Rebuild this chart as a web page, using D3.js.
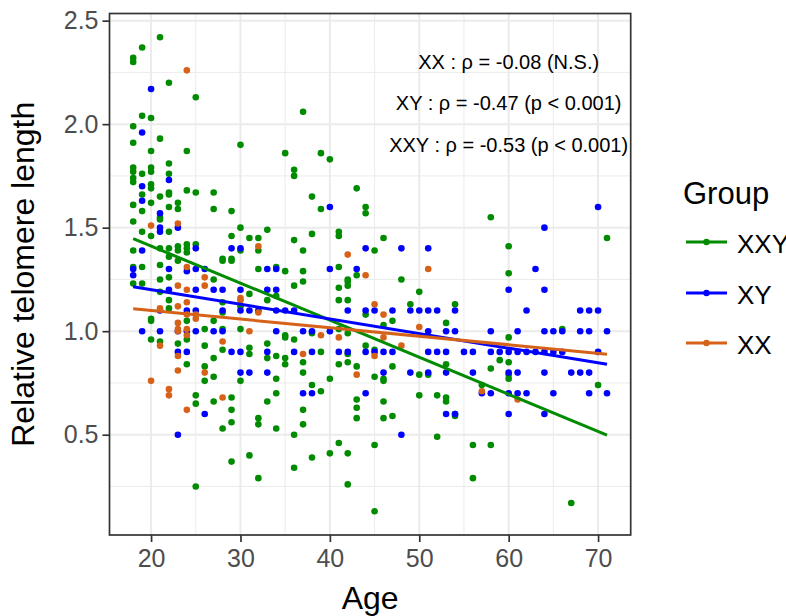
<!DOCTYPE html>
<html>
<head>
<meta charset="utf-8">
<script src="https://cdn.jsdelivr.net/npm/d3@7"></script>
<style>
  body { margin: 0; background: #fff; }
  text { font-family: "Liberation Sans", Arial, sans-serif; }
</style>
</head>
<body>
<div id="chart"></div>
<script>
// size of the drawing area
var svgWidth = 786;
var svgHeight = 616;

// panel edges (ggplot style, no margin object needed)
var panel = { left: 109.5, right: 630.7, top: 13.5, bottom: 535 };

// groups, in legend order
var groups = ["XXY", "XY", "XX"];
var groupColors = ["#008B00", "#0000FF", "#D6621A"];

// [age, relative telomere length]
var xxyPoints = [
  [21,2.42],[19,2.37],[18,2.32],[18,2.30],[22,2.20],[25,2.13],[37,2.06],[19,2.04],[20,2.03],[18,1.99],
  [21,1.93],[18,1.91],[30,1.90],[20,1.87],[24,1.87],[35,1.86],[39,1.86],[40,1.83],[22,1.81],[18,1.79],
  [18,1.77],[18,1.74],[18,1.72],[19,1.76],[20,1.79],[20,1.77],[36,1.78],[36,1.75],[22,1.76],[20,1.71],
  [20,1.69],[22,1.67],[22,1.66],[24,1.68],[25,1.67],[27,1.67],[19,1.66],[21,1.65],[38,1.65],[43,1.69],
  [18,1.61],[20,1.62],[23,1.62],[23,1.59],[22,1.60],[19,1.58],[27,1.59],[29,1.58],[39,1.59],[21,1.55],
  [21,1.54],[18,1.53],[22,1.48],[19,1.48],[20,1.46],[30,1.50],[33,1.49],[38,1.47],[41,1.48],[41,1.46],
  [29,1.46],[31,1.45],[32,1.45],[32,1.39],[36,1.44],[18,1.39],[21,1.40],[22,1.40],[22,1.36],[23,1.41],
  [23,1.39],[24,1.42],[24,1.40],[24,1.38],[25,1.42],[30,1.39],[28,1.35],[29,1.35],[37,1.39],
  [18,1.31],[19,1.31],[21,1.32],[23,1.34],[28,1.34],[29,1.34],[32,1.30],[34,1.31],[35,1.29],[37,1.29],
  [41,1.31],[43,1.27],[21,1.25],[22,1.26],[27,1.25],[18,1.23],[19,1.23],[36,1.22],[37,1.24],[41,1.21],
  [42,1.25],[42,1.24],[42,1.22],[21,1.19],[22,1.15],[28,1.14],[31,1.18],[33,1.15],[34,1.17],[41,1.15],
  [42,1.15],[22,1.11],[20,1.06],[20,1.05],[27,1.05],[30,1.12],[24,1.05],[28,1.09],
  [26,1.01],[30,1.01],[28,1.01],[41,1.01],[42,0.99],[38,0.99],[35,0.98],[35,0.97],[36,0.96],[20,0.96],
  [21,0.95],[23,0.94],[24,0.96],[33,0.94],
  [28,0.91],[31,0.92],[31,0.89],[33,0.87],[34,0.88],[35,0.87],[35,0.84],[37,0.85],[39,0.90],[26,0.93],
  [27,0.87],[42,0.89],[42,0.85],[41,0.84],[43,0.83],
  [24,0.84],[26,0.83],[26,0.76],[27,0.78],[30,0.76],[34,0.77],[37,0.80],[40,0.77],
  [25,0.69],[25,0.65],[29,0.68],[29,0.62],[27,0.66],[33,0.66],[34,0.70],[38,0.74],[39,0.71],[37,0.62],
  [43,0.67],[43,0.63],[43,0.58],[32,0.58],[32,0.55],[29,0.56],[28,0.53],[34,0.53],[37,0.55],
  [36,0.50],[41,0.46],[40,0.41],[42,0.41],[38,0.39],[31,0.40],[29,0.37],[32,0.29],[36,0.34],[25,0.25],[42,0.26],
  [44,1.60],[44,1.57],[58,1.55],[46,1.45],[45,1.39],[60,1.41],[71,1.45],
  [48,1.25],[60,1.28],[50,1.19],[49,1.13],[54,1.13],[44,1.08],[46,1.03],[47,1.05],[53,1.04],[66,1.01],
  [60,0.97],[44,0.93],[45,0.91],[59,0.86],[60,0.85],[58,0.82],[53,0.84],[47,0.83],[45,0.78],[46,0.77],
  [46,0.76],[50,0.79],[51,0.79],[60,0.79],[60,0.77],[57,0.74],[70,0.74],[50,0.69],[52,0.69],[53,0.68],
  [53,0.66],[46,0.66],[54,0.60],[54,0.59],[46,0.58],[47,0.59],[52,0.49],[45,0.45],[56,0.45],[58,0.45],
  [56,0.29],[67,0.17],[45,0.13]
];

var xyPoints = [
  [20,2.17],[19,1.96],[22,1.73],[19,1.70],[19,1.63],[21,1.57],[40,1.60],[23,1.50],[21,1.50],[21,1.48],
  [25,1.40],[29,1.40],[30,1.40],[19,1.39],
  [18,1.27],[18,1.30],[22,1.30],[24,1.29],[25,1.30],[26,1.30],[33,1.30],[34,1.30],[40,1.30],[43,1.30],
  [22,1.20],[25,1.20],[27,1.20],[28,1.20],[30,1.20],[33,1.20],[34,1.20],
  [42,1.10],[21,1.10],[24,1.10],[25,1.10],[28,1.10],[30,1.10],[31,1.10],[32,1.10],[34,1.10],[35,1.10],[36,1.10],
  [19,1.00],[21,1.00],[23,1.00],[24,1.00],[25,1.00],[27,1.00],[28,1.00],[34,1.00],[37,1.00],[38,1.00],[40,1.00],
  [23,0.90],[24,0.90],[29,0.90],[30,0.90],[33,0.90],[36,0.90],[38,0.90],[41,0.90],[42,0.90],
  [30,0.80],[31,0.80],[33,0.80],[37,0.70],[38,0.70],[26,0.60],[23,0.50],
  [44,1.40],[48,1.40],[51,1.40],[64,1.50],[70,1.60],[63,1.30],[60,1.20],[64,1.20],
  [44,1.10],[45,1.10],[47,1.10],[49,1.10],[50,1.10],[51,1.10],[52,1.10],[54,1.10],[62,1.10],[68,1.10],[69,1.10],[70,1.10],
  [51,1.00],[53,1.00],[54,1.00],[58,1.00],[61,1.00],[64,1.00],[65,1.00],[66,1.00],[68,1.00],[69,1.00],[71,1.00],
  [44,0.90],[45,0.90],[46,0.90],[47,0.90],[51,0.90],[52,0.90],[53,0.90],[55,0.90],[56,0.90],[58,0.90],
  [59,0.90],[60,0.90],[61,0.90],[62,0.90],[63,0.90],[64,0.90],[65,0.90],[66,0.90],[70,0.90],
  [46,0.80],[49,0.80],[51,0.80],[53,0.80],[56,0.80],[60,0.80],[61,0.80],[64,0.80],[67,0.80],[68,0.80],[69,0.80],
  [44,0.70],[57,0.70],[58,0.70],[60,0.70],[61,0.70],[62,0.70],[65,0.70],[69,0.70],[71,0.70],
  [53,0.60],[54,0.60],[60,0.60],[64,0.60],
  [48,0.50]
];

var xxPoints = [
  [24,2.26],[20,1.51],[23,1.52],[32,1.41],[42,1.37],
  [24,1.31],[26,1.26],[26,1.22],[23,1.22],[24,1.20],[24,1.14],[30,1.16],[30,1.15],[21,1.11],[32,1.09],
  [23,1.12],[25,1.08],[25,1.06],[24,1.08],[23,1.04],[31,1.00],[23,1.01],[23,1.00],[24,1.01],[24,0.98],
  [39,0.98],[41,0.97],[21,0.93],[28,0.95],[23,0.88],[37,0.89],[23,0.81],[26,0.80],[43,0.79],[20,0.76],
  [22,0.72],[22,0.69],[28,0.68],[24,0.62],
  [44,1.27],[51,1.30],[45,1.13],[46,1.08],[50,1.02],[46,0.97],[48,0.93],[45,0.88],[57,0.71],[61,0.67]
];

// fitted lines, ends
var fitAges = [18, 71];
var xxyFit = [1.447, 0.498];
var xyFit = [1.215, 0.840];
var xxFit = [1.108, 0.889];

// axis ticks
var xTicks = [20, 30, 40, 50, 60, 70];
var xMinor = [25, 35, 45, 55, 65];
var yTicks = [0.5, 1.0, 1.5, 2.0, 2.5];
var yMinor = [0.25, 0.75, 1.25, 1.75, 2.25];

// correlation labels (placed at age 60)
var annotAge = 60;
var annotY = [2.3, 2.1, 1.9];
var annotText = ["XX : \u03C1 = -0.08 (N.S.)", "XY : \u03C1 = -0.47 (p < 0.001)", "XXY : \u03C1 = -0.53 (p < 0.001)"];

var pointSets = [xxyPoints, xyPoints, xxPoints];
var fitSets = [xxyFit, xyFit, xxFit];

//Create svg container
var svg = d3.select("#chart").append("svg").attr("width", svgWidth).attr("height", svgHeight);
svg.append("rect").attr("width", svgWidth).attr("height", svgHeight).attr("fill", "#fff");

// ggplot-like 5% expansion of the data range
function expand(ext) {
  var r = ext[1] - ext[0];
  return [ext[0] - r * 0.05, ext[1] + r * 0.05];
}
var allPoints = xxyPoints.concat(xyPoints, xxPoints);
var xScale = d3.scaleLinear().domain(expand(d3.extent(allPoints, d => d[0]))).range([panel.left, panel.right]);
var yScale = d3.scaleLinear().domain(expand(d3.extent(allPoints, d => d[1]))).range([panel.bottom, panel.top]);

// grid lines
var grid = svg.append("g");
grid.selectAll(".xminor").data(xMinor).enter().append("line")
  .attr("x1", d => xScale(d)).attr("x2", d => xScale(d))
  .attr("y1", panel.top).attr("y2", panel.bottom)
  .attr("stroke", "#EBEBEB").attr("stroke-width", 1);
grid.selectAll(".yminor").data(yMinor).enter().append("line")
  .attr("y1", d => yScale(d)).attr("y2", d => yScale(d))
  .attr("x1", panel.left).attr("x2", panel.right)
  .attr("stroke", "#EBEBEB").attr("stroke-width", 1);
grid.selectAll(".xmajor").data(xTicks).enter().append("line")
  .attr("x1", d => xScale(d)).attr("x2", d => xScale(d))
  .attr("y1", panel.top).attr("y2", panel.bottom)
  .attr("stroke", "#EBEBEB").attr("stroke-width", 2);
grid.selectAll(".ymajor").data(yTicks).enter().append("line")
  .attr("y1", d => yScale(d)).attr("y2", d => yScale(d))
  .attr("x1", panel.left).attr("x2", panel.right)
  .attr("stroke", "#EBEBEB").attr("stroke-width", 2);

// points
pointSets.forEach(function(pts, i) {
  svg.append("g").selectAll("circle").data(pts).enter().append("circle")
    .attr("cx", d => xScale(d[0]))
    .attr("cy", d => yScale(d[1]))
    .attr("r", 3.3)
    .attr("fill", groupColors[i]);
});

// regression lines
var line = d3.line().x(d => xScale(d[0])).y(d => yScale(d[1]));
fitSets.forEach(function(f, i) {
  svg.append("path")
    .datum(fitAges.map((a, j) => [a, f[j]]))
    .attr("d", line)
    .attr("fill", "none")
    .attr("stroke", groupColors[i])
    .attr("stroke-width", 3);
});

// correlation text
svg.append("g").selectAll("text").data(annotText).enter().append("text")
  .attr("x", xScale(annotAge))
  .attr("y", (d, i) => yScale(annotY[i]) + 7)
  .attr("text-anchor", "middle")
  .attr("font-size", 20)
  .attr("fill", "#000")
  .text(d => d);

// panel border
svg.append("rect")
  .attr("x", panel.left).attr("y", panel.top)
  .attr("width", panel.right - panel.left).attr("height", panel.bottom - panel.top)
  .attr("fill", "none").attr("stroke", "#333").attr("stroke-width", 1.7);

// axes
var bottomAxis = d3.axisBottom(xScale).tickValues(xTicks).tickSize(7).tickPadding(7).tickFormat(d3.format("d"));
var leftAxis = d3.axisLeft(yScale).tickValues(yTicks).tickSize(7).tickPadding(4).tickFormat(d3.format(".1f"));

var xAxis = svg.append("g").attr("transform", `translate(0, ${panel.bottom})`).call(bottomAxis);
var yAxis = svg.append("g").attr("transform", `translate(${panel.left}, 0)`).call(leftAxis);
[xAxis, yAxis].forEach(function(ax) {
  ax.select(".domain").remove();
  ax.selectAll(".tick line").attr("stroke", "#333").attr("stroke-width", 1.7);
  ax.selectAll(".tick text").attr("fill", "#4D4D4D").attr("font-size", 25)
    .attr("font-family", "'Liberation Sans', Arial, sans-serif");
});

// axis titles
svg.append("text")
  .attr("x", (panel.left + panel.right) / 2)
  .attr("y", 609)
  .attr("text-anchor", "middle")
  .attr("font-size", 32)
  .text("Age");

svg.append("text")
  .attr("transform", `translate(34, ${(panel.top + panel.bottom) / 2}) rotate(-90)`)
  .attr("text-anchor", "middle")
  .attr("font-size", 32)
  .text("Relative telomere length");

// legend
var legend = svg.append("g");
legend.append("text").attr("x", 683).attr("y", 204).attr("font-size", 31).text("Group");
var keyY = [242, 293, 343];
groups.forEach(function(g, i) {
  legend.append("line")
    .attr("x1", 686).attr("x2", 727).attr("y1", keyY[i]).attr("y2", keyY[i])
    .attr("stroke", groupColors[i]).attr("stroke-width", 3);
  legend.append("circle").attr("cx", 706.5).attr("cy", keyY[i]).attr("r", 3.2).attr("fill", groupColors[i]);
  legend.append("text").attr("x", 737).attr("y", keyY[i] + 11).attr("font-size", 26).text(g);
});
</script>
</body>
</html>
